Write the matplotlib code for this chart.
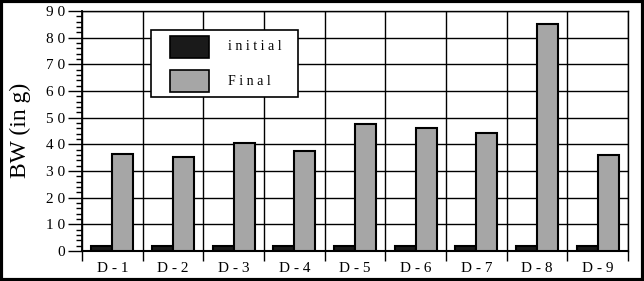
import matplotlib
matplotlib.use('Agg')
from matplotlib import pyplot as plt
from matplotlib.patches import Rectangle
import numpy as np

groups = ['D - 1', 'D - 2', 'D - 3', 'D - 4', 'D - 5', 'D - 6', 'D - 7', 'D - 8', 'D - 9']
initial = [1.9, 1.9, 1.9, 1.9, 1.9, 1.9, 1.9, 1.9, 1.9]
final = [36.4, 35.3, 40.5, 37.5, 47.6, 46.1, 44.3, 85.3, 36.1]
ytick_vals = [0, 10, 20, 30, 40, 50, 60, 70, 80, 90]
ytick_text = ['0', '1 0', '2 0', '3 0', '4 0', '5 0', '6 0', '7 0', '8 0', '9 0']

plt.rcParams['font.family'] = 'Liberation Serif'

fig = plt.figure(figsize=(6.44, 2.81), dpi=100)
ax = fig.add_axes([82/644, 1-251/281, 546/644, 240/281])

x = np.arange(len(groups))
w = 0.345
ax.bar(x - w/2, initial, w, color='#1a1a1a', edgecolor='black', linewidth=1.5, zorder=3)
ax.bar(x + w/2, final, w, color='#a6a6a6', edgecolor='black', linewidth=1.5, zorder=3)

ax.set_xlim(-0.5, len(groups) - 0.5)
ax.set_ylim(0, 90)

ax.set_yticks(ytick_vals)
ax.set_yticklabels(ytick_text, fontsize=11)
ax.set_yticks(np.arange(0, 91, 2), minor=True)
ax.tick_params(axis='y', which='major', length=10, width=1, direction='out', pad=2)
ax.tick_params(axis='y', which='minor', length=4, width=1, direction='out')

ax.set_xticks(x)
ax.set_xticklabels(groups, fontsize=11)
ax.set_xticks(np.arange(-0.5, len(groups), 1), minor=True)
ax.tick_params(axis='x', which='major', length=0, pad=8)
ax.tick_params(axis='x', which='minor', length=7, width=1, direction='out')

ax.grid(True, axis='y', which='major', color='black', linewidth=1, zorder=0)
ax.grid(True, axis='x', which='minor', color='black', linewidth=1, zorder=0)
ax.set_axisbelow(True)

for s in ['top', 'right']:
    ax.spines[s].set_linewidth(1)
ax.spines['left'].set_linewidth(1.3)
ax.spines['bottom'].set_linewidth(1.5)

fig.text(20/644, 1-130/281, 'BW (in g)', rotation=90, ha='center', va='center', fontsize=17)

# legend box
fig.patches.append(Rectangle((151/644, 1-97/281), 147/644, 67/281, transform=fig.transFigure,
                             facecolor='white', edgecolor='black', linewidth=1.2, zorder=5))
fig.patches.append(Rectangle((170/644, 1-58/281), 39/644, 22/281, transform=fig.transFigure,
                             facecolor='#1a1a1a', edgecolor='black', linewidth=1.2, zorder=6))
fig.patches.append(Rectangle((170/644, 1-92/281), 39/644, 22/281, transform=fig.transFigure,
                             facecolor='#a6a6a6', edgecolor='black', linewidth=1.2, zorder=6))
fig.text(228/644, 1-47/281, 'i n i t i a l', fontsize=10, va='center', zorder=7)
fig.text(228/644, 1-82/281, 'F i n a l', fontsize=10, va='center', zorder=7)

# outer border
fig.patches.append(Rectangle((0.002, 0.004), 0.996, 0.992, transform=fig.transFigure,
                             facecolor='none', edgecolor='black', linewidth=3, zorder=10))

fig.savefig('out.png', dpi=100)
